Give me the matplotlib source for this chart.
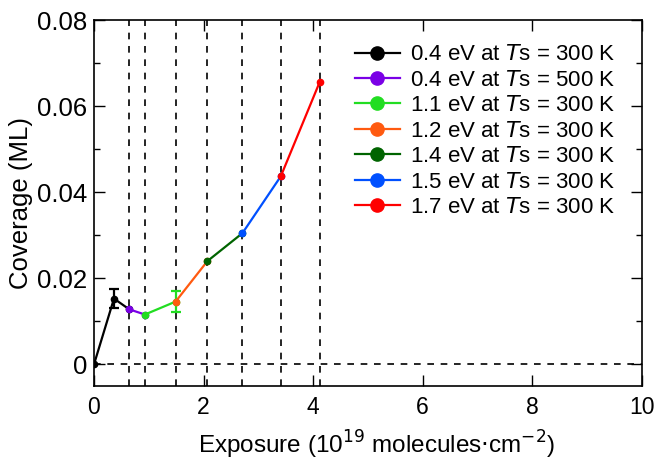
import matplotlib
matplotlib.use("Agg")
import matplotlib.pyplot as plt
from matplotlib.lines import Line2D
from matplotlib.ticker import MultipleLocator

plt.rcParams['font.family'] = ['Liberation Sans', 'DejaVu Sans']

# exposure boundaries (10^19 molecules/cm^2) where beam energy changes
boundaries = [0.644, 0.93, 1.49, 2.07, 2.71, 3.41, 4.12]

labels = ["0.4 eV at $\\mathit{T}$s = 300 K",
          "0.4 eV at $\\mathit{T}$s = 500 K",
          "1.1 eV at $\\mathit{T}$s = 300 K",
          "1.2 eV at $\\mathit{T}$s = 300 K",
          "1.4 eV at $\\mathit{T}$s = 300 K",
          "1.5 eV at $\\mathit{T}$s = 300 K",
          "1.7 eV at $\\mathit{T}$s = 300 K"]
colors = ["#000000", "#7a00e6", "#22dd22", "#ff5a10", "#006400", "#0050ff", "#ff0000"]

# each segment: x and coverage (ML)
seg_x = [[0, 0.365, 0.644],
         [0.644, 0.93],
         [0.93, 1.49],
         [1.49, 2.07],
         [2.07, 2.71],
         [2.71, 3.41],
         [3.41, 4.12]]
seg_y = [[0, 0.0153, 0.0128],
         [0.0128, 0.0116],
         [0.0116, 0.0146],
         [0.0146, 0.0240],
         [0.0240, 0.0305],
         [0.0305, 0.0437],
         [0.0437, 0.0656]]
seg_err = [[0, 0.0023, 0],
           [0, 0],
           [0, 0.0024],
           [0, 0],
           [0, 0],
           [0, 0],
           [0, 0]]

fig = plt.figure(figsize=(6.59, 4.61), dpi=100)
ax = fig.add_axes([0.1426, 0.1627, 0.8314, 0.7939])

for b in boundaries:
    ax.axvline(b, color="black", lw=1.2, ls=(0, (4, 4)), zorder=1)
ax.axhline(0, color="black", lw=1.2, ls=(0, (4, 4)), zorder=1)

handles = []
for xs, ys, es, c, lab in zip(seg_x, seg_y, seg_err, colors, labels):
    ax.plot(xs, ys, color=c, lw=1.6, marker="o", ms=4.5, zorder=3)
    ex = [x for x, e in zip(xs, es) if e > 0]
    ey = [y for y, e in zip(ys, es) if e > 0]
    ee = [e for e in es if e > 0]
    if ee:
        ax.errorbar(ex, ey, yerr=ee, fmt="none", ecolor=c, elinewidth=1.6,
                    capsize=3.5, capthick=1.6, zorder=3)
    handles.append(Line2D([], [], color=c, lw=1.6, marker="o", ms=9.5))

ax.set_xlim(0, 10)
ax.set_ylim(-0.005, 0.08)
ax.xaxis.set_major_locator(MultipleLocator(2))
ax.yaxis.set_minor_locator(MultipleLocator(0.01))
ax.set_yticks([0, 0.02, 0.04, 0.06, 0.08])
ax.set_yticklabels(["0", "0.02", "0.04", "0.06", "0.08"])
ax.tick_params(which="both", direction="in", top=True, right=True)
ax.tick_params(axis="y", labelsize=18.5, pad=5)
ax.tick_params(axis="x", labelsize=16.5, pad=7)
ax.tick_params(which="major", length=8, width=1)
ax.tick_params(which="minor", length=4, width=1)
for s in ax.spines.values():
    s.set_linewidth(1.2)

ax.set_xlabel("Exposure (10$^{19}$ molecules$\\cdot$cm$^{-2}$)", fontsize=17.5, labelpad=3)
ax.xaxis.set_label_coords(0.515, -0.118)
ax.set_ylabel("Coverage (ML)", fontsize=18.5, labelpad=3)

ax.legend(handles, labels, loc="upper right", bbox_to_anchor=(0.975, 0.97),
          frameon=False, fontsize=16, handlelength=2.0,
          labelspacing=0.2, handletextpad=0.45, borderaxespad=0.2)

fig.savefig("out.png", dpi=100)
